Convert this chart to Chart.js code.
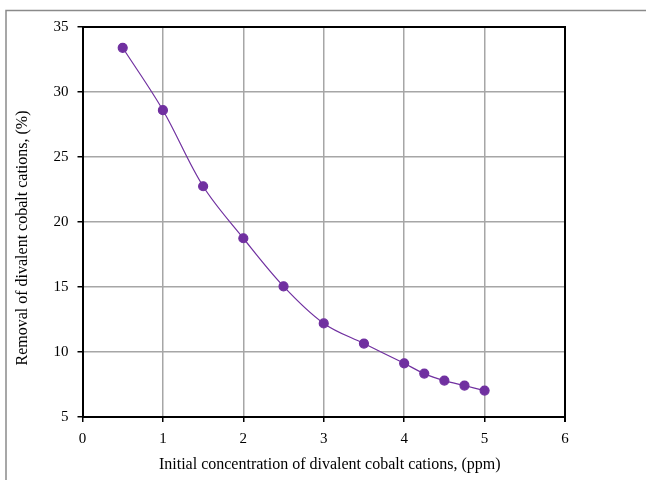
<!DOCTYPE html>
<html lang="en">
<head>
  <meta charset="UTF-8">
  <title>Removal of divalent cobalt cations</title>
  <script src="https://cdn.jsdelivr.net/npm/chart.js"></script>
  <style>
    html, body { margin: 0; padding: 0; background: #fff; }
    #wrap { width: 646px; height: 480px; }
  </style>
</head>
<body>
  <div id="wrap"><canvas id="cobaltChart" width="646" height="480"></canvas></div>

  <script>
    // values
    const concentration = [0.5, 1, 1.5, 2, 2.5, 3, 3.5, 4, 4.25, 4.5, 4.75, 5];
    const removal = [33.4, 28.6, 22.75, 18.75, 15.05, 12.2, 10.65, 9.13, 8.34, 7.8, 7.42, 7.03];
    const xTicks = [0, 1, 2, 3, 4, 5, 6];
    const yTicks = [5, 10, 15, 20, 25, 30, 35];

    const points = concentration.map((x, i) => ({ x: x, y: removal[i] }));
    const serif = 'Liberation Serif, Times New Roman, serif';
    const nb = '\u00a0';

    // grey outer frame + black box on top/right of plot
    const framePlugin = {
      id: 'frame',
      afterDraw(chart) {
        const ctx = chart.ctx;
        const a = chart.chartArea;
        ctx.save();
        ctx.strokeStyle = '#8a8a8a';
        ctx.lineWidth = 1.5;
        ctx.beginPath();
        ctx.moveTo(6, 480);
        ctx.lineTo(6, 10.5);
        ctx.lineTo(646, 10.5);
        ctx.stroke();
        ctx.strokeStyle = '#000';
        ctx.lineWidth = 2;
        ctx.beginPath();
        ctx.moveTo(a.left, a.top);
        ctx.lineTo(a.right, a.top);
        ctx.lineTo(a.right, a.bottom + 5);
        ctx.stroke();
        ctx.restore();
      }
    };

    new Chart(document.getElementById('cobaltChart').getContext('2d'), {
      type: 'scatter',
      data: {
        datasets: [{
          data: points,
          showLine: true,
          borderColor: '#7030a0',
          borderWidth: 1.2,
          backgroundColor: '#7030a0',
          pointBackgroundColor: '#7030a0',
          pointBorderColor: '#7030a0',
          pointRadius: 4.5,
          tension: 0.35
        }]
      },
      options: {
        responsive: false,
        animation: false,
        layout: { padding: { left: 0, top: 27, right: 81, bottom: 0 } },
        plugins: {
          legend: { display: false },
          tooltip: { enabled: false }
        },
        scales: {
          x: {
            type: 'linear',
            min: 0,
            max: 6,
            afterBuildTicks: (s) => { s.ticks = xTicks.map(v => ({ value: v })); },
            afterFit: (s) => { s.height = 63; },
            ticks: { color: '#000', font: { family: serif, size: 15 }, padding: 8 },
            grid: { color: '#a6a6a6', lineWidth: 1.5, tickColor: '#000', tickLength: 5 },
            border: { color: '#000', width: 2 },
            title: {
              display: true,
              text: nb.repeat(3) + 'Initial concentration of divalent cobalt cations, (ppm)',
              color: '#000',
              font: { family: serif, size: 16, lineHeight: 1.2 },
              padding: { top: 0, bottom: 6 }
            }
          },
          y: {
            min: 5,
            max: 35,
            afterBuildTicks: (s) => { s.ticks = yTicks.map(v => ({ value: v })); },
            afterFit: (s) => { s.width = 82.5; },
            ticks: { color: '#000', font: { family: serif, size: 15 }, padding: 9 },
            grid: { color: '#a6a6a6', lineWidth: 1.5, tickColor: '#000', tickLength: 5 },
            border: { color: '#000', width: 2 },
            title: {
              display: true,
              text: 'Removal of divalent cobalt cations, (%)' + nb.repeat(8),
              color: '#000',
              font: { family: serif, size: 16, lineHeight: 1.2 },
              padding: { top: 13, bottom: 0 }
            }
          }
        }
      },
      plugins: [framePlugin]
    });
  </script>
</body>
</html>
